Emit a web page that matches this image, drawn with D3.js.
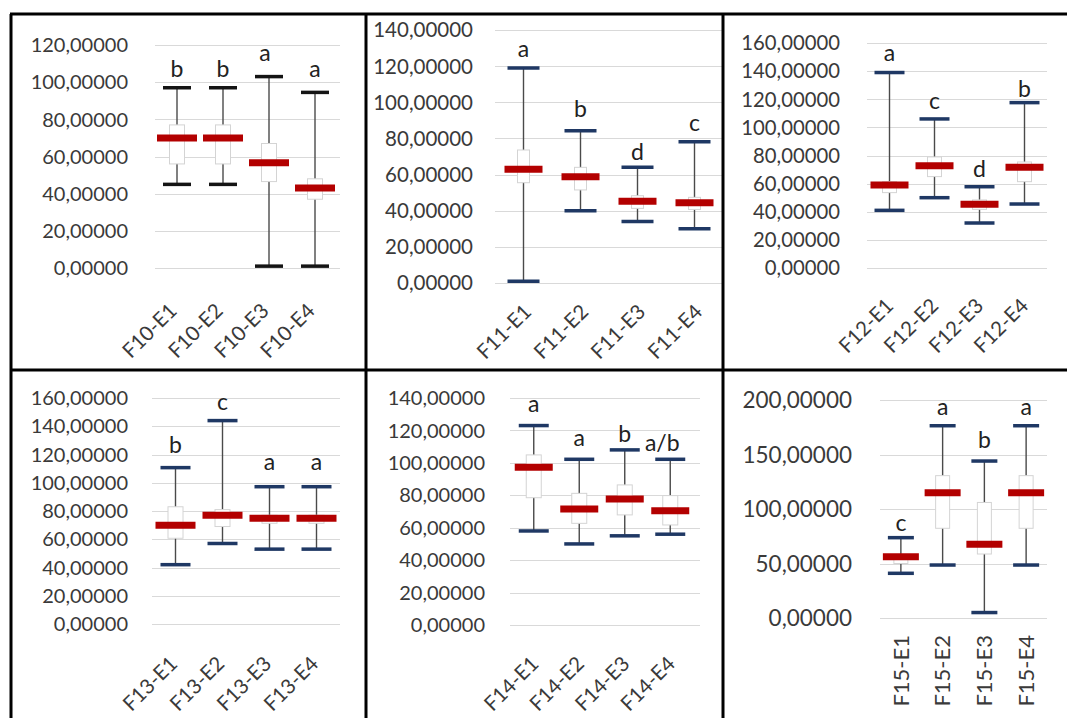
<!DOCTYPE html>
<html>
<head>
<meta charset="utf-8">
<script src="https://cdn.jsdelivr.net/npm/d3@7/dist/d3.min.js"></script>
<style>
  html, body { margin: 0; padding: 0; background: #fff; }
  svg { display: block; }
  text { font-family: "Lato", "Open Sans", sans-serif; }
</style>
</head>
<body>
<svg id="chart" width="1067" height="718"></svg>
<script>
// ---- data ----
const panelIds = ["F10", "F11", "F12", "F13", "F14", "F15"];
const groupIds = ["E1", "E2", "E3", "E4"];

const yTickValues = [
  [0, 20, 40, 60, 80, 100, 120],
  [0, 20, 40, 60, 80, 100, 120, 140],
  [0, 20, 40, 60, 80, 100, 120, 140, 160],
  [0, 20, 40, 60, 80, 100, 120, 140, 160],
  [0, 20, 40, 60, 80, 100, 120, 140],
  [0, 50, 100, 150, 200]
];

const whiskerLow = [
  [45, 45, 1, 1],
  [1, 40, 34, 30],
  [41, 50, 32, 45.5],
  [42, 57, 53, 53],
  [58, 50, 55, 56],
  [41, 48.6, 5, 48.6]
];
const quartileLow = [
  [56, 56, 46.5, 37],
  [55.5, 51.5, 41.3, 40.7],
  [53.6, 65, 41.7, 61.4],
  [60.7, 69, 71.3, 71.3],
  [78.5, 62.7, 67.9, 61.7],
  [50, 82.3, 58.7, 82.3]
];
const medians = [
  [70, 70, 56.7, 43],
  [62.9, 58.8, 45.2, 44.4],
  [59, 72.7, 45.3, 71.6],
  [70, 77, 74.8, 74.8],
  [97.3, 71.5, 77.7, 70.5],
  [56.3, 115, 67.6, 115]
];
const quartileHigh = [
  [77, 77, 67, 48],
  [73.6, 64, 48.3, 47.4],
  [61.4, 79, 48.4, 75.4],
  [83, 81, 77, 77],
  [104.9, 81.2, 86.4, 79.8],
  [58, 130.6, 106, 130.6]
];
const whiskerHigh = [
  [97, 97, 103, 94.5],
  [119, 84.3, 64, 78.2],
  [139, 106, 57.8, 117.6],
  [110.7, 144, 97.2, 97.2],
  [123, 102.2, 108, 102.2],
  [73.7, 176.4, 144, 176.4]
];
const groupLetters = [
  ["b", "b", "a", "a"],
  ["a", "b", "d", "c"],
  ["a", "c", "d", "b"],
  ["b", "c", "a", "a"],
  ["a", "a", "b", "a/b"],
  ["c", "a", "b", "a"]
];

// ---- layout of each cell ----
const layout = [
  { x0: 154, x1: 338, gx0: 155, gx1: 340, y0: 268, yTop: 45,  labelRight: 128, font: 20,
    capW: 28, medW: 40, boxW: 15, cap: "#141414", rot: -45, ldx: -4, ldy: 39,
    gaps: [11, 11, 16, 15], ldxs: [0, 0, -4, 0] },
  { x0: 495, x1: 723, gx0: 495, gx1: 723, y0: 283, yTop: 30,  labelRight: 473, font: 20.5,
    capW: 32, medW: 38, boxW: 12, cap: "#1f3864", rot: -45, ldx: 4, ldy: 25,
    gaps: [11, 14, 7, 11], ldxs: [0, 0, 0, 0] },
  { x0: 867, x1: 1047, gx0: 867, gx1: 1047, y0: 268, yTop: 43, labelRight: 840, font: 20.3,
    capW: 30, medW: 38, boxW: 14, cap: "#1f3864", rot: -45, ldx: 0, ldy: 34,
    gaps: [12, 10, 10, 6], ldxs: [0, 0, 0, 0] },
  { x0: 152, x1: 340, gx0: 152, gx1: 340, y0: 624, yTop: 398, labelRight: 128, font: 20,
    capW: 30, medW: 40, boxW: 15, cap: "#1f3864", rot: -45, ldx: -2, ldy: 36,
    gaps: [15, 11, 17, 17], ldxs: [0, 0, 0, 0] },
  { x0: 511, x1: 693, gx0: 510, gx1: 700, y0: 625, yTop: 398, labelRight: 485, font: 20,
    capW: 30, medW: 38, boxW: 15, cap: "#1f3864", rot: -45, ldx: 1, ldy: 35,
    gaps: [14, 13, 8, 8], ldxs: [0, 0, 0, -8] },
  { x0: 880, x1: 1047, gx0: 880, gx1: 1047, y0: 618, yTop: 400, labelRight: 852, font: 22.5,
    capW: 26, medW: 36, boxW: 14, cap: "#1f3864", rot: -90, ldx: 0, ldy: 17,
    gaps: [7, 11, 13, 11], ldxs: [0, 0, 0, 0] }
];

const svg = d3.select("#chart");
const fmtLocale = d3.formatLocale({ decimal: ",", thousands: ".", grouping: [3], currency: ["", ""] });
const fmt = fmtLocale.format(".5f");

panelIds.forEach((pid, p) => {
  const L = layout[p];
  const ticks = yTickValues[p];
  const y = d3.scaleLinear().domain([0, d3.max(ticks)]).range([L.y0, L.yTop]);
  const x = d3.scaleBand().domain(groupIds).range([L.x0, L.x1]);
  const g = svg.append("g");

  // horizontal gridlines
  g.selectAll("line.grid").data(ticks).join("line")
    .attr("x1", L.gx0).attr("x2", L.gx1)
    .attr("y1", d => Math.round(y(d)) + 0.5).attr("y2", d => Math.round(y(d)) + 0.5)
    .attr("stroke", "#d9d9d9").attr("stroke-width", 1);

  // value axis labels
  g.selectAll("text.ytick").data(ticks).join("text")
    .attr("x", L.labelRight).attr("y", d => y(d)).attr("dy", "0.36em")
    .attr("text-anchor", "end").attr("font-size", L.font).attr("fill", "#3a3a3a")
    .text(d => fmt(d));

  const rows = groupIds.map((gid, i) => ({
    gid, i,
    cx: x(gid) + x.bandwidth() / 2,
    lo: whiskerLow[p][i], q1: quartileLow[p][i], med: medians[p][i],
    q3: quartileHigh[p][i], hi: whiskerHigh[p][i], letter: groupLetters[p][i]
  }));

  // whisker stems
  g.selectAll("line.stem").data(rows).join("line")
    .attr("x1", d => d.cx).attr("x2", d => d.cx)
    .attr("y1", d => y(d.lo)).attr("y2", d => y(d.hi))
    .attr("stroke", "#4a4a4a").attr("stroke-width", 1.4);

  // interquartile boxes
  g.selectAll("rect.box").data(rows).join("rect")
    .attr("x", d => d.cx - L.boxW / 2).attr("width", L.boxW)
    .attr("y", d => y(d.q3)).attr("height", d => y(d.q1) - y(d.q3))
    .attr("fill", "#ffffff").attr("stroke", "#d4d4d4").attr("stroke-width", 1);

  // whisker caps
  ["lo", "hi"].forEach(k => {
    g.selectAll("line.cap-" + k).data(rows).join("line")
      .attr("x1", d => d.cx - L.capW / 2).attr("x2", d => d.cx + L.capW / 2)
      .attr("y1", d => y(d[k])).attr("y2", d => y(d[k]))
      .attr("stroke", L.cap).attr("stroke-width", 3.5);
  });

  // medians
  g.selectAll("line.median").data(rows).join("line")
    .attr("x1", d => d.cx - L.medW / 2).attr("x2", d => d.cx + L.medW / 2)
    .attr("y1", d => y(d.med)).attr("y2", d => y(d.med))
    .attr("stroke", "#b30000").attr("stroke-width", 7);

  // significance letters
  g.selectAll("text.letter").data(rows).join("text")
    .attr("x", d => d.cx + L.ldxs[d.i]).attr("y", d => y(d.hi) - L.gaps[d.i])
    .attr("text-anchor", "middle").attr("font-size", 23).attr("fill", "#222")
    .text(d => d.letter);

  // category labels
  g.selectAll("text.cat").data(rows).join("text")
    .attr("transform", d => `translate(${d.cx + L.ldx},${L.y0 + L.ldy}) rotate(${L.rot})`)
    .attr("text-anchor", "end").attr("dy", "0.35em")
    .attr("font-size", L.rot === -90 ? 22 : 20.5).attr("fill", "#3a3a3a")
    .text(d => `${pid}-${d.gid}`);
});

// table borders around the six cells
const borders = [
  [10, 14, 1067, 14],
  [11, 14, 11, 718],
  [366, 14, 366, 718],
  [723, 14, 723, 718],
  [10, 370, 1067, 370]
];
svg.append("g").selectAll("line").data(borders).join("line")
  .attr("x1", d => d[0]).attr("y1", d => d[1]).attr("x2", d => d[2]).attr("y2", d => d[3])
  .attr("stroke", "#000").attr("stroke-width", 3);
</script>
</body>
</html>
